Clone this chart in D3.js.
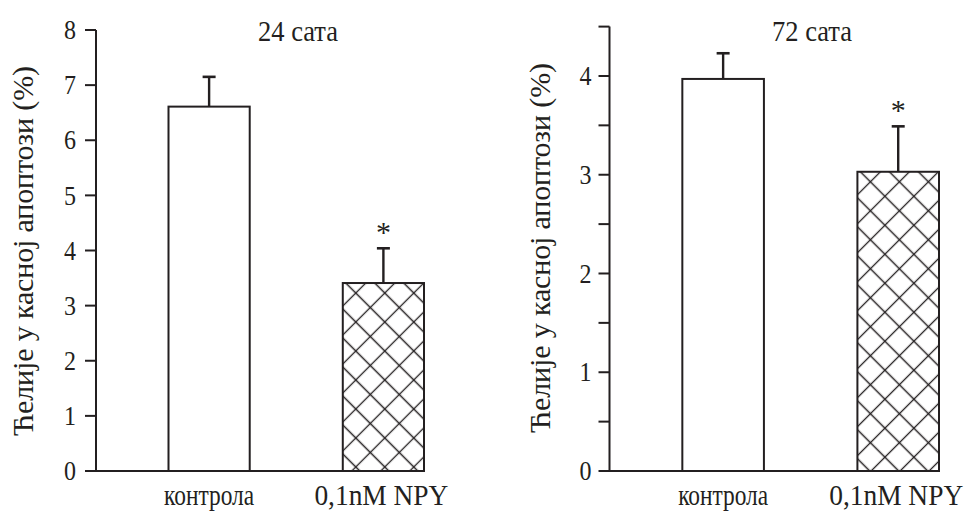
<!DOCTYPE html>
<html>
<head>
<meta charset="utf-8">
<script src="https://cdn.jsdelivr.net/npm/d3@7"></script>
</head>
<body style="margin:0">
<svg id="chart" width="970" height="511" font-family="Liberation Serif" style="font-family: 'Liberation Serif'"></svg>
<script>
// ---- data ----
const categories = ["контрола", "0,1nM NPY"];
const titles = ["24 сата", "72 сата"];
const yLabel = "Ћелије у касној апоптози (%)";
const means24 = [6.61, 3.41];
const sem24 = [0.54, 0.63];
const means72 = [3.97, 3.03];
const sem72 = [0.26, 0.46];
const significant = [false, true];
const ticks24 = [0, 1, 2, 3, 4, 5, 6, 7, 8];
const ticks72 = [0, 0.5, 1, 1.5, 2, 2.5, 3, 3.5, 4, 4.5];
const yMax = [8, 4.5];

const INK = "#231f20";
const svg = d3.select("#chart");
const defs = svg.append("defs");

function addText(parent, size) {
  return parent.append("text")
    .attr("font-family", "Liberation Serif")
    .style("font-family", '"Liberation Serif"')
    .attr("font-size", size)
    .attr("fill", INK);
}

function panel(idx, cfg, means, sems, ticks) {
  const g = svg.append("g");
  const x = d3.scaleBand().domain(categories)
    .range([cfg.left, cfg.right])
    .paddingInner(0.534).paddingOuter(0.208).align(1);
  const y = d3.scaleLinear().domain([0, yMax[idx]]).range([cfg.bottom, cfg.top]);
  const bw = x.bandwidth();

  const hx = x(categories[1]) + 13, hy = y(means[1]) + 10;
  const d = 20.5;
  const pat = defs.append("pattern")
    .attr("id", "hatch" + idx)
    .attr("patternUnits", "userSpaceOnUse")
    .attr("width", d).attr("height", d)
    .attr("patternTransform", `translate(${hx},${hy}) rotate(45) translate(${-d/2},${-d/2})`);
  pat.append("rect").attr("width", d).attr("height", d).attr("fill", "#fff");
  pat.append("path")
    .attr("d", `M0,${d/2}H${d}M${d/2},0V${d}`)
    .attr("stroke", INK).attr("stroke-width", 1.3).attr("fill", "none");

  g.selectAll("rect.bar").data(categories).join("rect")
    .attr("class", "bar")
    .attr("x", c => x(c))
    .attr("width", bw)
    .attr("y", (c, i) => y(means[i]))
    .attr("height", (c, i) => y(0) - y(means[i]))
    .attr("fill", (c, i) => i === 1 ? `url(#hatch${idx})` : "#fff")
    .attr("stroke", INK).attr("stroke-width", 2);

  categories.forEach((c, i) => {
    const cx = x(c) + bw / 2;
    const yt = y(means[i] + sems[i]);
    g.append("line").attr("x1", cx).attr("x2", cx)
      .attr("y1", y(means[i])).attr("y2", yt)
      .attr("stroke", INK).attr("stroke-width", 2.4);
    g.append("line").attr("x1", cx - 6.5).attr("x2", cx + 6.5)
      .attr("y1", yt).attr("y2", yt)
      .attr("stroke", INK).attr("stroke-width", 2.6);
    if (significant[i]) {
      addText(g, 30).attr("x", cx).attr("y", yt - 6)
        .attr("text-anchor", "middle").text("*");
    }
  });

  // y axis: ticks + domain via d3 axis, labels drawn separately
  const axis = d3.axisLeft(y).tickValues(ticks).tickSize(11).tickSizeOuter(0)
    .offset(0).tickFormat("");
  const ag = g.append("g").attr("transform", `translate(${cfg.left},0)`).call(axis);
  ag.attr("font-family", null).attr("font-size", null);
  ag.select(".domain").attr("stroke", INK).attr("stroke-width", 2);
  ag.selectAll(".tick line").attr("stroke", INK).attr("stroke-width", 2);
  ag.selectAll(".tick text").remove();
  ticks.filter(Number.isInteger).forEach(v => {
    addText(g, 27).attr("x", cfg.left - 11 - cfg.pad).attr("y", y(v))
      .attr("dy", "0.34em").attr("text-anchor", "end")
      .attr("textLength", 12).attr("lengthAdjust", "spacingAndGlyphs")
      .text(String(v));
  });

  g.append("line").attr("x1", cfg.left - 1).attr("x2", cfg.right + 1)
    .attr("y1", y(0)).attr("y2", y(0))
    .attr("stroke", INK).attr("stroke-width", 2);

  categories.forEach((c, i) => {
    addText(g, 29)
      .attr("x", x(c) + bw / 2 - (i === 1 ? 2 : 0)).attr("y", 505)
      .attr("text-anchor", "middle")
      .attr("textLength", i === 0 ? 90 : 134)
      .attr("lengthAdjust", "spacingAndGlyphs")
      .text(c);
  });

  addText(g, 30).attr("x", cfg.titleX).attr("y", 41)
    .attr("text-anchor", "middle")
    .attr("textLength", 80).attr("lengthAdjust", "spacingAndGlyphs")
    .text(titles[idx]);

  addText(g, 30)
    .attr("transform", `translate(${cfg.labelX},${cfg.labelY}) rotate(-90)`)
    .attr("text-anchor", "middle")
    .attr("textLength", 370)
    .text(yLabel);
}

panel(0, { left: 96, right: 424, top: 30, bottom: 471, pad: 9, titleX: 298, labelX: 33, labelY: 251 },
  means24, sem24, ticks24);
panel(1, { left: 609.5, right: 939, top: 26.6, bottom: 471, pad: 7, titleX: 812, labelX: 550, labelY: 248 },
  means72, sem72, ticks72);
</script>
</body>
</html>
